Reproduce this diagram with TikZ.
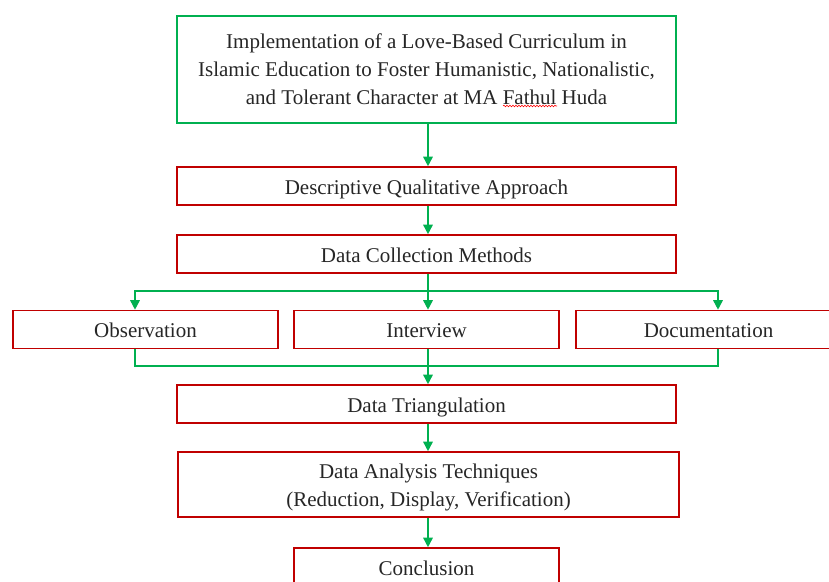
\documentclass[tikz,border=0pt]{standalone}
\usepackage{fontspec}
\setmainfont{Liberation Serif}
\usetikzlibrary{arrows.meta,decorations.pathmorphing}
\definecolor{boxred}{HTML}{C00000}
\definecolor{arrgreen}{HTML}{00B050}
\tikzset{
  base/.style={line width=1.6pt, inner sep=0pt, align=center, font=\fontsize{21}{28}\selectfont, text=black!85},
  redbox/.style={base, draw=boxred, minimum height=38pt, text height=16pt, text depth=0pt},
  redframe/.style={draw=boxred, line width=1.6pt, inner sep=0pt},
  greenbox/.style={base, draw=arrgreen},
  gline/.style={draw=arrgreen, line width=1.6pt},
  garr/.style={gline, -{Triangle[length=9.5pt,width=9.5pt]}},
}
\begin{document}
\begin{tikzpicture}[x=1pt,y=-1pt]
\useasboundingbox (0,0) rectangle (829,581);
\clip (0,0) rectangle (829,581);
\coordinate (c) at (428,0);
\coordinate (ox) at (135,0);
\coordinate (dx) at (718,0);
\node[greenbox, minimum width=499pt, minimum height=107pt] (title) at (426.5,69.5)
  {Implementation of a Love-Based Curriculum in\\Islamic Education to Foster Humanistic, Nationalistic,\\and Tolerant Character at MA Fathul Huda};
\node[redbox, minimum width=499pt] (dqa) at (426.5,186) {Descriptive Qualitative Approach};
\node[redbox, minimum width=499pt] (dcm) at (426.5,254) {Data Collection Methods};
\node[redbox, minimum width=265pt] (obs) at (145.5,329.5) {Observation};
\node[redbox, minimum width=265pt] (int) at (426.5,329.5) {Interview};
\node[redbox, minimum width=265pt] (doc) at (708.5,329.5) {Documentation};
\node[redbox, minimum width=499pt] (tri) at (426.5,404) {Data Triangulation};
\node[redframe, minimum width=501pt, minimum height=65pt] (dat) at (428.5,484.5) {};
\node[base] (dattext) at ([yshift=-3pt]dat.center) {Data Analysis Techniques\\(Reduction, Display, Verification)};
\node[redbox, minimum width=265pt] (con) at (426.5,567) {Conclusion};
\draw[decorate, decoration={snake, amplitude=0.8pt, segment length=3pt}, draw=red, line width=0.6pt] (503,106) -- (557,106);
\coordinate (split) at (428,291);
\coordinate (join) at (428,366);
\draw[garr] (title.south -| c) -- (dqa.north -| c);
\draw[garr] (dqa.south -| c) -- (dcm.north -| c);
\draw[garr] (dcm.south -| c) -- (int.north -| c);
\draw[garr] (split) -| (obs.north -| ox);
\draw[garr] (split) -| (doc.north -| dx);
\draw[gline] (obs.south -| ox) |- (join);
\draw[gline] (doc.south -| dx) |- (join);
\draw[garr] (int.south -| c) -- (tri.north -| c);
\draw[garr] (tri.south -| c) -- (dat.north -| c);
\draw[garr] (dat.south -| c) -- (con.north -| c);
\end{tikzpicture}
\end{document}
